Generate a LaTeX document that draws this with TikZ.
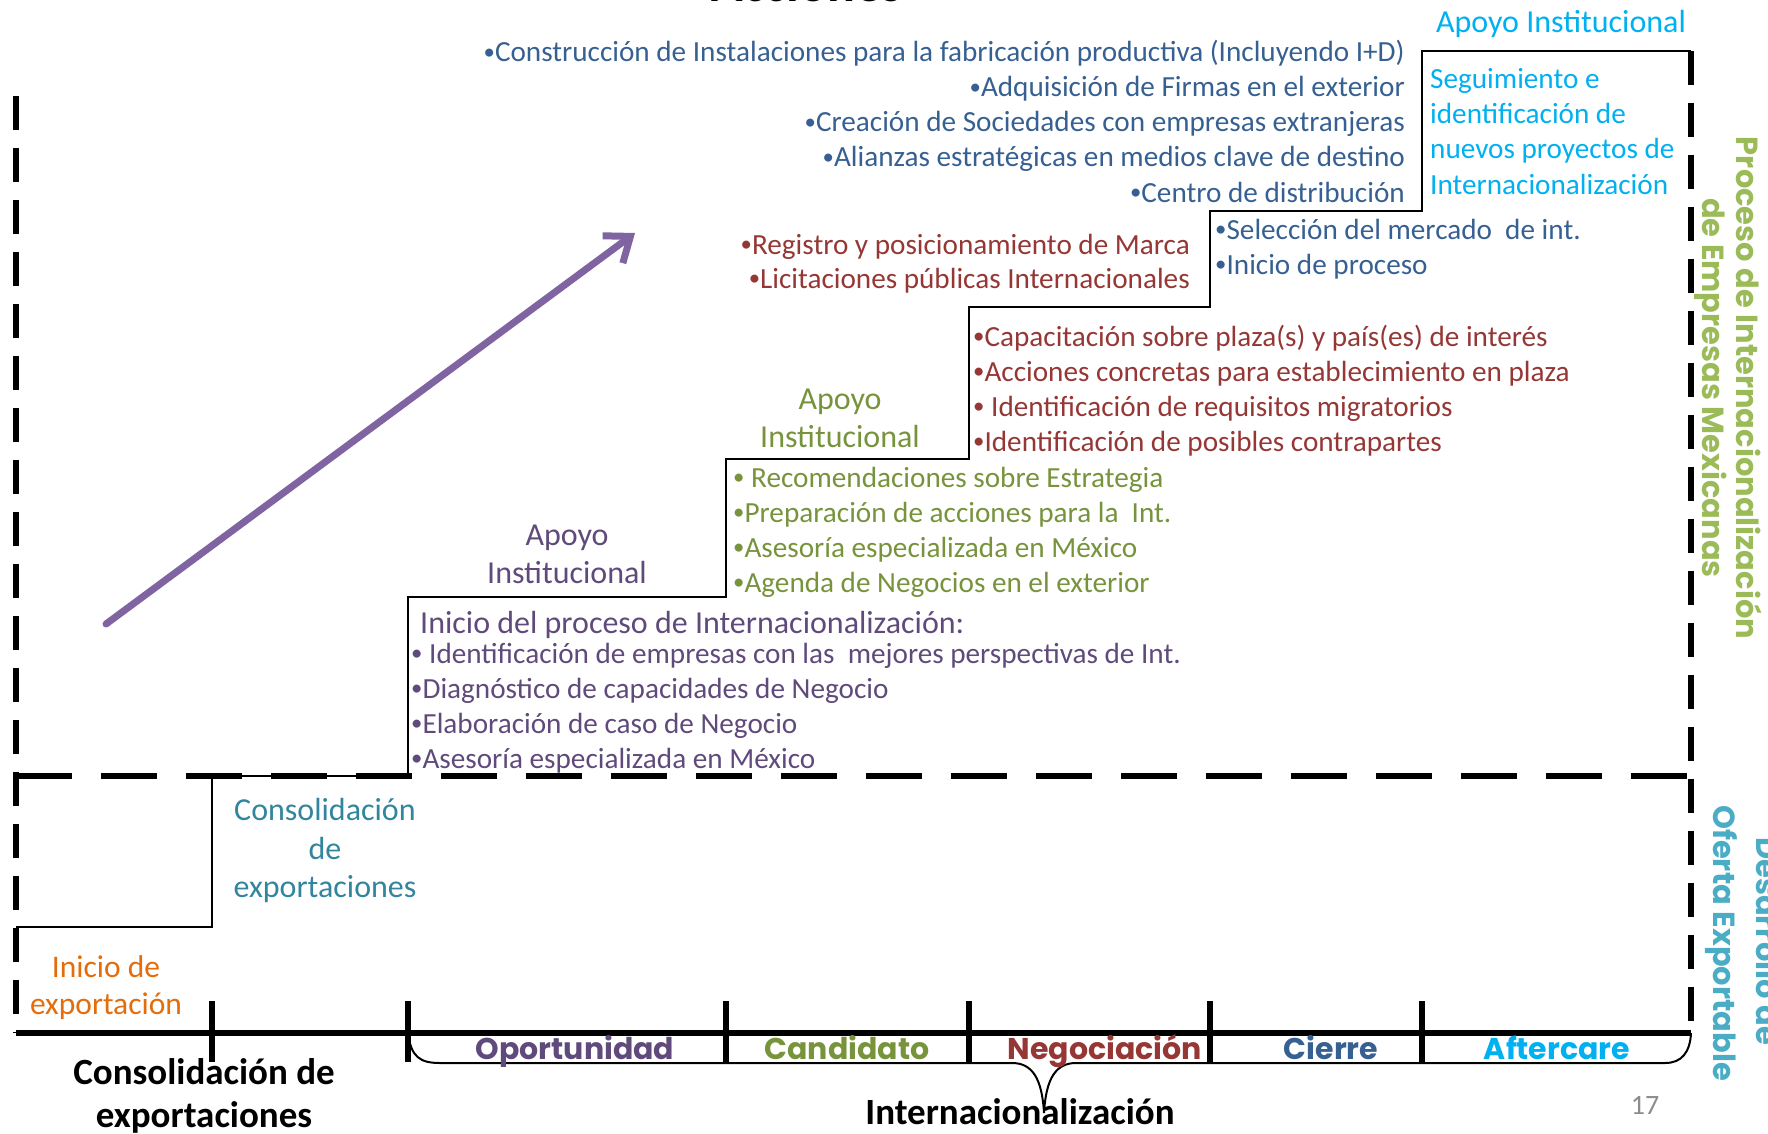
\documentclass[tikz,border=0pt]{standalone}
\usepackage{fontspec}
\setmainfont{Carlito}
\newfontfamily\gothic{Poppins}
\usetikzlibrary{arrows.meta}
\definecolor{cblue}{HTML}{376092}
\definecolor{ccyan}{HTML}{00B0F0}
\definecolor{cred}{HTML}{953735}
\definecolor{cgreen}{HTML}{77933C}
\definecolor{cpurple}{HTML}{604A7B}
\definecolor{cteal}{HTML}{31859C}
\definecolor{corange}{HTML}{E46C0A}
\definecolor{lgreen}{HTML}{9BBB59}
\definecolor{lteal}{HTML}{4BACC6}
\definecolor{carrow}{HTML}{8064A2}
\definecolor{cgray}{HTML}{8C8C8C}
\newcommand{\tbul}{\raisebox{0.08em}{\scalebox{0.78}{•}}}
\begin{document}
\begin{tikzpicture}[x=1pt,y=-1pt,
  t/.style={inner sep=0pt, font=\fontsize{29.2}{35}\selectfont},
  tl/.style={t, anchor=base west},
  tr/.style={t, anchor=base east},
  tc/.style={t, anchor=base},
  big/.style={font=\fontsize{32}{38}\selectfont},
  apoyo/.style={font=\fontsize{32}{38}\selectfont},
  phase/.style={inner sep=0pt, anchor=base, font=\gothic\bfseries\fontsize{30}{36}\selectfont},
  rot/.style={inner sep=0pt, anchor=base, rotate=-90, font=\gothic\bfseries\fontsize{30.5}{36}\selectfont},
  bold/.style={inner sep=0pt, anchor=base, font=\bfseries\fontsize{37}{44}\selectfont},
  stair/.style={line width=2.2pt, black},
  vdash/.style={line width=6pt, black, dash pattern=on 34pt off 18pt},
  hdash/.style={line width=5.5pt, black, dash pattern=on 56pt off 29pt},
  axis/.style={line width=5.5pt, black},
  brace/.style={line width=2pt, black},
  arr/.style={line width=7pt, carrow, line cap=round, -{Straight Barb[length=22pt,width=34pt]}}
]
\useasboundingbox (0,0) rectangle (1768,1134);

% title (cut off at top, as in the reference)
\node[inner sep=0pt, anchor=base, font=\bfseries\fontsize{52}{60}\selectfont] (title) at (807,2) {Acciones};

% staircase
\draw[stair] (16,927) -- (212,927) -- (212,776) -- (408,776) -- (408,597) -- (726,597)
  -- (726,459) -- (969,459) -- (969,307) -- (1210,307) -- (1210,211) -- (1422,211)
  -- (1422,51) -- (1691,51);

% dashed frame
\draw[vdash] (16,96) -- (16,1033);
\draw[vdash] (1691,51) -- (1691,1033);
\draw[hdash] (16,776) -- (1691,776);

% axis and ticks
\draw[axis] (16,1033) -- (1691,1033);
\foreach \x in {212,408,726,969,1210,1422} \draw[axis] (\x,1001) -- (\x,1062);

% brace
\draw[brace] (408,1033) .. controls (411,1057) and (420,1063) .. (440,1063) -- (1012,1063)
  .. controls (1032,1063) and (1042,1078) .. (1044,1113)
  .. controls (1046,1078) and (1056,1063) .. (1076,1063) -- (1665,1063)
  .. controls (1682,1063) and (1690,1052) .. (1691,1033);

% arrow
\coordinate (arS) at (106,624);
\coordinate (arE) at (635,233);
\draw[arr] (arS) -- (arE);

% top blue block
\foreach \s [count=\i] in {{\tbul Construcción de Instalaciones para la fabricación productiva (Incluyendo I+D)},
  {\tbul Adquisición de Firmas en el exterior},{\tbul Creación de Sociedades con empresas extranjeras},
  {\tbul Alianzas estratégicas en medios clave de destino},{\tbul Centro de distribución}}
  \node[tr, text=cblue] (act\i) at (1405,{62+35*(\i-1)}) {\s};

% aftercare
\node[tc, apoyo, text=ccyan] (apoyo5) at (1561,33) {Apoyo Institucional};
\foreach \s [count=\i] in {{Seguimiento e},{identificación de},{nuevos proyectos de},{Internacionalización}}
  \node[tl, text=ccyan] (seg\i) at (1430,{89+35*(\i-1)}) {\s};

% cierre
\node[tl, text=cblue] (sel1) at (1215,239) {\tbul Selección del mercado\ \ de int.};
\node[tl, text=cblue] (sel2) at (1215,274) {\tbul Inicio de proceso};

% negociacion
\node[tr, text=cred] (reg1) at (1190,254) {\tbul Registro y posicionamiento de Marca};
\node[tr, text=cred] (reg2) at (1190,288) {\tbul Licitaciones públicas Internacionales};
\foreach \s [count=\i] in {{\tbul Capacitación sobre plaza(s) y país(es) de interés},
  {\tbul Acciones concretas para establecimiento en plaza},{\tbul\ Identificación de requisitos migratorios},
  {\tbul Identificación de posibles contrapartes}}
  \node[tl, text=cred] (neg\i) at (973,{346+35*(\i-1)}) {\s};

% candidato
\node[tc, apoyo, text=cgreen] (apoyo3a) at (840,409) {Apoyo};
\node[tc, apoyo, text=cgreen] (apoyo3b) at (840,447) {Institucional};
\foreach \s [count=\i] in {{\tbul\ Recomendaciones sobre Estrategia},{\tbul Preparación de acciones para la\ \ Int.},
  {\tbul Asesoría especializada en México},{\tbul Agenda de Negocios en el exterior}}
  \node[tl, text=cgreen] (cand\i) at (733,{487+35*(\i-1)}) {\s};

% oportunidad
\node[tc, apoyo, text=cpurple] (apoyo2a) at (567,545) {Apoyo};
\node[tc, apoyo, text=cpurple] (apoyo2b) at (567,583) {Institucional};
\node[tl, big, text=cpurple] (ini) at (420,633) {Inicio del proceso de Internacionalización:};
\foreach \s [count=\i] in {{\tbul\ Identificación de empresas con las\ \ mejores perspectivas de Int.},
  {\tbul Diagnóstico de capacidades de Negocio},{\tbul Elaboración de caso de Negocio},
  {\tbul Asesoría especializada en México}}
  \node[tl, text=cpurple] (opo\i) at (411,{663+35*(\i-1)}) {\s};

% consolidacion
\node[tc, text=cteal, font=\fontsize{32}{38}\selectfont] (cons1) at (325,820) {Consolidación};
\node[tc, text=cteal, font=\fontsize{32}{38}\selectfont] (cons2) at (325,859) {de};
\node[tc, text=cteal, font=\fontsize{32}{38}\selectfont] (cons3) at (325,897) {exportaciones};

% inicio de exportacion
\node[tc, text=corange, font=\fontsize{31.5}{37}\selectfont] (inex1) at (106,977) {Inicio de};
\node[tc, text=corange, font=\fontsize{31.5}{37}\selectfont] (inex2) at (106,1014) {exportación};

% phases
\node[phase, text=cpurple] (ph1) at (575,1059) {Oportunidad};
\node[phase, text=cgreen] (ph2) at (847,1059) {Candidato};
\node[phase, text=cred] (ph3) at (1105,1059) {Negociación};
\node[phase, text=cblue] (ph4) at (1331,1059) {Cierre};
\node[phase, text=ccyan] (ph5) at (1557,1059) {Aftercare};

% bottom labels
\node[bold] (cx1) at (204,1084) {Consolidación de};
\node[bold] (cx2) at (204,1127) {exportaciones};
\node[bold] (intl) at (1020,1124) {Internacionalización};
\node[inner sep=0pt, anchor=base, text=cgray, font=\fontsize{28}{34}\selectfont] (pg) at (1645,1114) {17};

% rotated side labels
\node[rot, text=lgreen] (proc1) at (1736,388) {Proceso de Internacionalización};
\node[rot, text=lgreen] (proc2) at (1702,388) {de Empresas Mexicanas};
\node[rot, text=lteal] (des1) at (1756,941) {Desarrollo de};
\node[rot, text=lteal] (des2) at (1713,943) {Oferta Exportable};
\end{tikzpicture}
\end{document}
